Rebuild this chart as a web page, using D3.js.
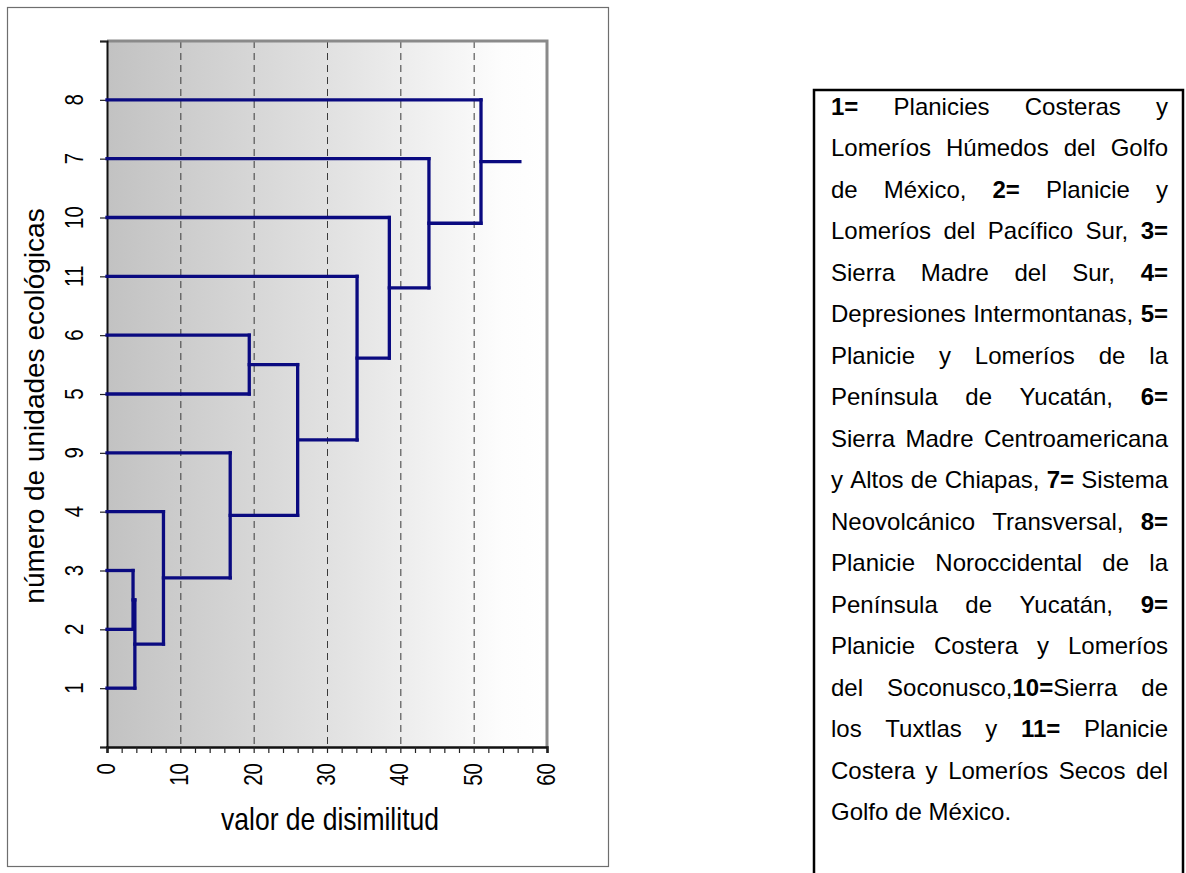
<!DOCTYPE html>
<html><head><meta charset="utf-8">
<script src="https://cdn.jsdelivr.net/npm/d3@7"></script>
<style>
html,body{margin:0;padding:0;background:#fff;}
text{font-family:"Liberation Sans",Arial,sans-serif;fill:#000;}
</style></head>
<body>
<svg id="chart" width="1186" height="873"></svg>
<script>
// ---- data ----
const leaves = ["1","2","3","4","9","5","6","11","10","7","8"]; // bottom to top
// merges: [childA, childB, dissimilarity]; merged nodes are named c1, c2, ...
const merges = [
  ["2","3",3.55],
  ["1","c1",3.8],
  ["c2","4",7.7],
  ["c3","9",16.8],
  ["5","6",19.4],
  ["c4","c5",26.0],
  ["c6","11",34.1],
  ["c7","10",38.5],
  ["c8","7",43.9],
  ["c9","8",51.0]
];
const rootStub = 56.3;
const xTickValues = [0,10,20,30,40,50,60];
const xMinorTicks = d3.range(0,61,2);
const gridValues = [10,20,30,40,50];
const xTitle = "valor de disimilitud";
const yTitle = "número de unidades ecológicas";
const legendLines = [
  "**1=** Planicies Costeras y",
  "Lomeríos Húmedos del Golfo",
  "de México, **2=** Planicie y",
  "Lomeríos del Pacífico Sur, **3=**",
  "Sierra Madre del Sur, **4=**",
  "Depresiones Intermontanas, **5=**",
  "Planicie y Lomeríos de la",
  "Península de Yucatán, **6=**",
  "Sierra Madre Centroamericana",
  "y Altos de Chiapas, **7=** Sistema",
  "Neovolcánico Transversal, **8=**",
  "Planicie Noroccidental de la",
  "Península de Yucatán, **9=**",
  "Planicie Costera y Lomeríos",
  "del Soconusco,**10=**Sierra de",
  "los Tuxtlas y **11=** Planicie",
  "Costera y Lomeríos Secos del",
  "Golfo de México."
];

// ---- layout ----
const svg = d3.select("#chart");
const P = {left:107, right:547, top:41, bottom:747};
const x = d3.scaleLinear().domain([0,60]).range([P.left,P.right]);
const y = d3.scaleLinear().domain([0,leaves.length+1]).range([P.bottom,P.top]);

svg.append("rect").attr("width",1186).attr("height",873).attr("fill","#fff");
// outer frame
svg.append("rect").attr("x",7.5).attr("y",7.5).attr("width",601).attr("height",859)
  .attr("fill","none").attr("stroke","#6e6e6e").attr("stroke-width",1.2);

// gradient background
const defs = svg.append("defs");
const grad = defs.append("linearGradient").attr("id","bg").attr("x1","0").attr("x2","1").attr("y1","0").attr("y2","0");
grad.append("stop").attr("offset","0%").attr("stop-color","#c2c2c2");
grad.append("stop").attr("offset","55%").attr("stop-color","#e4e4e4");
grad.append("stop").attr("offset","90%").attr("stop-color","#fdfdfd");
grad.append("stop").attr("offset","100%").attr("stop-color","#ffffff");
svg.append("rect").attr("x",P.left).attr("y",P.top).attr("width",P.right-P.left).attr("height",P.bottom-P.top)
  .attr("fill","url(#bg)");

// gridlines
svg.append("g").selectAll("line").data(gridValues).join("line")
  .attr("x1",d=>x(d)+0.5).attr("x2",d=>x(d)+0.5).attr("y1",P.top).attr("y2",P.bottom)
  .attr("stroke","#3a3a3a").attr("stroke-width",1).attr("stroke-dasharray","7,5");

// top & right border
svg.append("path").attr("d",`M${P.left},${P.top}H${P.right}V${P.bottom}`)
  .attr("fill","none").attr("stroke","#8a8a8a").attr("stroke-width",3);

// y axis
const yAxis = d3.axisLeft(y).tickValues(d3.range(0,leaves.length+2)).tickSize(7).tickFormat("");
const gy = svg.append("g").attr("transform",`translate(${P.left},0)`).call(yAxis);
gy.select(".domain").attr("stroke","#111").attr("stroke-width",2);
gy.selectAll(".tick line").attr("stroke","#222").attr("stroke-width",1.2);
svg.append("g").selectAll("text").data(leaves).join("text")
  .attr("transform",(d,i)=>`translate(83,${y(i+1)}) rotate(-90) scale(1,1.3)`)
  .attr("text-anchor","middle").attr("font-size",20.5).text(d=>d);

// x axis
const xAxis = d3.axisBottom(x).tickValues(xMinorTicks).tickSize(6).tickFormat("");
const gx = svg.append("g").attr("transform",`translate(0,${P.bottom})`).call(xAxis);
gx.select(".domain").attr("stroke","#111").attr("stroke-width",2.5);
gx.selectAll(".tick line").attr("stroke","#222").attr("stroke-width",1.2);
svg.append("g").selectAll("text").data(xTickValues).join("text")
  .attr("transform",d=>`translate(${x(d)+8},763) rotate(-90) scale(1,1.3)`)
  .attr("text-anchor","end").attr("font-size",20.5).text(d=>d);

// titles
svg.append("text").attr("transform",`translate(${(P.left+P.right)/2+3},830) scale(1,1.15)`)
  .attr("text-anchor","middle").attr("font-size",26.5).text(xTitle);
svg.append("text").attr("transform","translate(44,406) rotate(-90)").attr("text-anchor","middle")
  .attr("font-size",28).text(yTitle);

// dendrogram
const nodes = {};
leaves.forEach((l,i)=>{ nodes[l] = {x:0, y:i+1}; });
const segs = [];
merges.forEach((m,k)=>{
  const a = nodes[m[0]], b = nodes[m[1]], h = m[2];
  segs.push([[a.x,a.y],[h,a.y]]);
  segs.push([[b.x,b.y],[h,b.y]]);
  segs.push([[h,a.y],[h,b.y]]);
  nodes["c"+(k+1)] = {x:h, y:(a.y+b.y)/2};
});
const root = nodes["c"+merges.length];
segs.push([[root.x,root.y],[rootStub,root.y]]);
svg.append("g").selectAll("line").data(segs).join("line")
  .attr("x1",d=>x(d[0][0])).attr("y1",d=>y(d[0][1]))
  .attr("x2",d=>x(d[1][0])).attr("y2",d=>y(d[1][1]))
  .attr("stroke","#0a0a80").attr("stroke-width",3.3).attr("stroke-linecap","square");

// legend box
svg.append("path").attr("d","M814,880V90H1183V880")
  .attr("fill","none").attr("stroke","#000").attr("stroke-width",2.5);

const LX0 = 831, LX1 = 1168, LY0 = 115, LDY = 41.47, LFS = 24;
const lg = svg.append("g");
legendLines.forEach((line,li)=>{
  const words = line.split(" ");
  const items = words.map(w=>{
    const t = lg.append("text").attr("y",LY0+li*LDY).attr("font-size",LFS);
    w.split("**").forEach((seg,si)=>{
      if(seg.length) t.append("tspan").attr("font-weight",si%2?"bold":"normal").text(seg);
    });
    return {t, w:t.node().getComputedTextLength()};
  });
  const total = d3.sum(items,d=>d.w);
  const last = li===legendLines.length-1;
  let gap = last||items.length<2 ? LFS*0.278 : (LX1-LX0-total)/(items.length-1);
  gap = Math.max(gap,3);
  let cx = LX0;
  items.forEach(it=>{ it.t.attr("x",cx); cx += it.w+gap; });
});
</script>
</body></html>
